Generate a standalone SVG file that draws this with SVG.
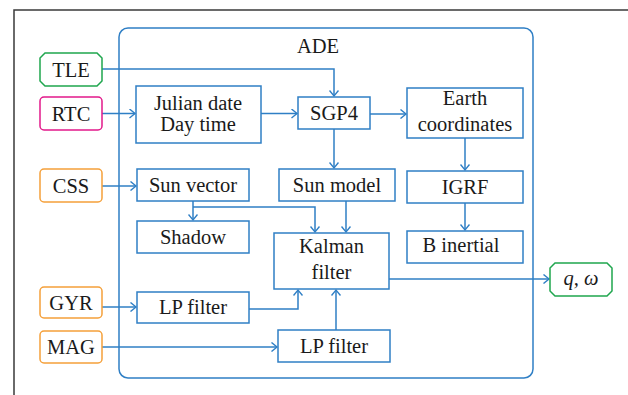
<svg xmlns="http://www.w3.org/2000/svg" width="628" height="395" viewBox="0 0 628 395">
<defs>
<style>
.b{fill:#fff;stroke:#2f7fc5;stroke-width:1.5}
.c{fill:none;stroke:#2f7fc5;stroke-width:1.5}
.t{font-family:"Liberation Serif","Times New Roman",serif;font-size:20.5px;fill:#1a1a1a;text-anchor:middle}
.g{fill:#fff;stroke:#1fa64e;stroke-width:1.5}
.m{fill:#fff;stroke:#e2198a;stroke-width:1.5}
.o{fill:#fff;stroke:#f5a03a;stroke-width:1.5}
</style>
<marker id="a" markerWidth="8" markerHeight="10" refX="6" refY="5" orient="auto" markerUnits="userSpaceOnUse">
<path d="M0.5,0.5 L6,5 L0.5,9.5" fill="none" stroke="#2f7fc5" stroke-width="1.4"/>
</marker>
</defs>
<rect width="628" height="395" fill="#fff"/>
<path d="M14,400 V10 H640" fill="none" stroke="#3a3a3a" stroke-width="1.5"/>
<g id="ADE">
<rect x="119" y="28" width="414" height="350" rx="9" class="c"/>
<text x="318" y="53" class="t">ADE</text>
</g>
<g id="connectors">
<path d="M102,69 H334 V96" class="c" marker-end="url(#a)"/>
<path d="M102,113.5 H135" class="c" marker-end="url(#a)"/>
<path d="M261,113.5 H297" class="c" marker-end="url(#a)"/>
<path d="M370,114 H406" class="c" marker-end="url(#a)"/>
<path d="M334,129 V168" class="c" marker-end="url(#a)"/>
<path d="M465,138 V170" class="c" marker-end="url(#a)"/>
<path d="M465,203 V230" class="c" marker-end="url(#a)"/>
<path d="M102,186 H136" class="c" marker-end="url(#a)"/>
<path d="M193,201 V220" class="c" marker-end="url(#a)"/>
<path d="M193,207 H315 V232" class="c" marker-end="url(#a)"/>
<path d="M346,201 V232" class="c" marker-end="url(#a)"/>
<path d="M102,307 H136" class="c" marker-end="url(#a)"/>
<path d="M249,309 H298 V290" class="c" marker-end="url(#a)"/>
<path d="M102,347 H277" class="c" marker-end="url(#a)"/>
<path d="M336,330 V290" class="c" marker-end="url(#a)"/>
<path d="M389,279 H549" class="c" marker-end="url(#a)"/>
</g>
<g id="TLE">
<polygon points="45,53 97,53 102,58 102,81 97,86 45,86 40,81 40,58" class="g"/>
<text x="71" y="77" class="t">TLE</text>
</g>
<g id="RTC">
<rect x="40" y="97" width="62" height="33" rx="4" class="m"/>
<text x="71" y="121" class="t">RTC</text>
</g>
<g id="CSS">
<rect x="40" y="169" width="62" height="33" rx="4" class="o"/>
<text x="71" y="193" class="t">CSS</text>
</g>
<g id="GYR">
<rect x="40" y="287" width="62" height="31" rx="4" class="o"/>
<text x="71" y="309.5" class="t">GYR</text>
</g>
<g id="MAG">
<rect x="40" y="331" width="62" height="32" rx="4" class="o"/>
<text x="71" y="354" class="t">MAG</text>
</g>
<g id="julian">
<rect x="136" y="86" width="125" height="57" class="b"/>
<text x="198" y="110" class="t">Julian date</text>
<text x="198" y="131" class="t">Day time</text>
</g>
<g id="sgp4">
<rect x="298" y="97" width="72" height="32" class="b"/>
<text x="334" y="120" class="t">SGP4</text>
</g>
<g id="earth">
<rect x="407" y="88" width="116" height="50" class="b"/>
<text x="465" y="105" class="t">Earth</text>
<text x="465" y="131" class="t">coordinates</text>
</g>
<g id="sunvector">
<rect x="137" y="169" width="112" height="32" class="b"/>
<text x="193" y="192" class="t">Sun vector</text>
</g>
<g id="sunmodel">
<rect x="279" y="169" width="116" height="32" class="b"/>
<text x="337" y="192" class="t">Sun model</text>
</g>
<g id="igrf">
<rect x="407" y="171" width="116" height="32" class="b"/>
<text x="465" y="194" class="t">IGRF</text>
</g>
<g id="shadow">
<rect x="137" y="221" width="112" height="32" class="b"/>
<text x="193" y="244" class="t">Shadow</text>
</g>
<g id="kalman">
<rect x="274" y="233" width="115" height="56" class="b"/>
<text x="331.5" y="253" class="t">Kalman</text>
<text x="331.5" y="279" class="t">filter</text>
</g>
<g id="binertial">
<rect x="407" y="231" width="116" height="32" class="b"/>
<text x="461" y="252" class="t">B inertial</text>
</g>
<g id="lp1">
<rect x="137" y="292" width="112" height="31" class="b"/>
<text x="193" y="314" class="t">LP filter</text>
</g>
<g id="lp2">
<rect x="278" y="330" width="112" height="32" class="b"/>
<text x="334" y="353" class="t">LP filter</text>
</g>
<g id="qw">
<polygon points="555,263 607,263 612,268 612,291 607,296 555,296 550,291 550,268" class="g"/>
<text x="581" y="285" class="t" font-style="italic">q, ω</text>
</g>
</svg>
